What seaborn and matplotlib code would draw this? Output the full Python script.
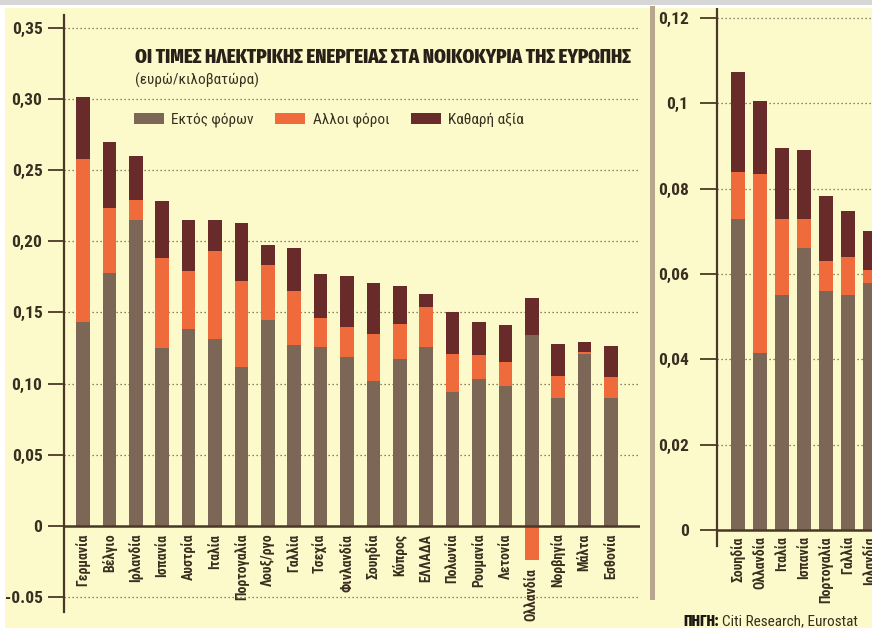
import matplotlib
matplotlib.use("Agg")
import matplotlib.pyplot as plt
import seaborn as sns
import pandas as pd
import numpy as np
from matplotlib.patches import Patch, Rectangle
from matplotlib import font_manager as fm
from matplotlib.ft2font import FT2Font

# ---------------- data ----------------
countries = ["Γερμανία", "Βέλγιο", "Ιρλανδία", "Ισπανία", "Αυστρία", "Ιταλία",
             "Πορτογαλία", "Λουξ/ργο", "Γαλλία", "Τσεχία", "Φινλανδία", "Σουηδία",
             "Κύπρος", "ΕΛΛΑΔΑ", "Πολωνία", "Ρουμανία", "Λετονία", "Ολλανδία",
             "Νορβηγία", "Μάλτα", "Εσθονία"]
excl_tax = [0.143, 0.178, 0.215, 0.125, 0.138, 0.131, 0.112, 0.145, 0.127, 0.126,
            0.119, 0.102, 0.117, 0.126, 0.094, 0.103, 0.098, 0.134, 0.090, 0.121, 0.090]
other_tax = [0.115, 0.045, 0.014, 0.063, 0.041, 0.062, 0.060, 0.038, 0.038, 0.020,
             0.021, 0.0325, 0.0246, 0.028, 0.027, 0.0174, 0.017, -0.024, 0.015, 0.0015, 0.0145]
net_value = [0.043, 0.047, 0.031, 0.040, 0.036, 0.022, 0.041, 0.0145, 0.030, 0.031,
             0.0356, 0.036, 0.027, 0.009, 0.029, 0.023, 0.026, 0.026, 0.023, 0.007, 0.022]

countries_r = ["Σουηδία", "Ολλανδία", "Ιταλία", "Ισπανία", "Πορτογαλία", "Γαλλία", "Ιρλανδία"]
excl_tax_r = [0.073, 0.0415, 0.055, 0.066, 0.056, 0.055, 0.058]
other_tax_r = [0.011, 0.042, 0.018, 0.007, 0.007, 0.009, 0.003]
net_value_r = [0.0234, 0.017, 0.0165, 0.016, 0.0153, 0.0108, 0.009]

left_ticks = [-0.05, 0, 0.05, 0.10, 0.15, 0.20, 0.25, 0.30, 0.35]
left_ticklabels = ["-0.05", "0", "0,05", "0,10", "0,15", "0,20", "0,25", "0,30", "0,35"]
right_ticks = [0, 0.02, 0.04, 0.06, 0.08, 0.10, 0.12]
right_ticklabels = ["0", "0,02", "0,04", "0,06", "0,08", "0,1", "0,12"]

title = "ΟΙ ΤΙΜΕΣ ΗΛΕΚΤΡΙΚΗΣ ΕΝΕΡΓΕΙΑΣ ΣΤΑ ΝΟΙΚΟΚΥΡΙΑ ΤΗΣ ΕΥΡΩΠΗΣ"
subtitle = "(ευρώ/κιλοβατώρα)"
legend_labels = ["Εκτός φόρων", "Αλλοι φόροι", "Καθαρή αξία"]
source_bold = "ΠΗΓΗ:"
source_text = "Citi Research, Eurostat"

# ---------------- style ----------------
W, H = 872, 628
BG = "#fcf9cb"
C_GRAY = "#7c6756"
C_ORANGE = "#f06b3c"
C_DARK = "#692b2a"
TXT = "#3a2e20"
AXC = "#4a3826"

sns.set_theme(style="white")


def has_greek(path):
    try:
        cm = FT2Font(path).get_charmap()
        return 0x03A3 in cm and 0x03C9 in cm
    except Exception:
        return False


def pick(cands):
    for c in cands:
        fs = [f for f in fm.fontManager.ttflist if f.name == c]
        if fs and has_greek(fs[0].fname):
            return c
    return "DejaVu Sans"


NARROW = pick(["Roboto Condensed", "Fira Sans Condensed", "Open Sans Condensed",
               "Sofia Sans Condensed", "Fira Sans Extra Condensed", "Liberation Sans Narrow"])
TITLEF = pick(["Fira Sans Extra Condensed", "Roboto Condensed", "Fira Sans Condensed",
               "Sofia Sans Extra Condensed", "Sofia Sans Condensed", "Liberation Sans Narrow"])
FAM = [NARROW, "DejaVu Sans"]
plt.rcParams["font.family"] = FAM

fig = plt.figure(figsize=(W / 100, H / 100), dpi=100)
fig.patch.set_facecolor(BG)

# page edges
fig.add_artist(Rectangle((0, 1 - 5 / H), 1, 5 / H, transform=fig.transFigure,
                         facecolor="#d6d6d6", edgecolor="none"))
fig.add_artist(Rectangle((0, 1 - 8 / H), 1, 3 / H, transform=fig.transFigure,
                         facecolor="white", edgecolor="none"))
fig.add_artist(Rectangle((0, 0), 5 / W, 1 - 5 / H, transform=fig.transFigure,
                         facecolor="white", edgecolor="none"))
# separator between panels
fig.add_artist(Rectangle((650 / W, 1 - 600 / H), 5 / W, 594 / H, transform=fig.transFigure,
                         facecolor="#b7a78e", edgecolor="none"))


def rect(x0, x1, ytop, ybot):
    return [x0 / W, 1 - ybot / H, (x1 - x0) / W, (ybot - ytop) / H]


def draw_stack(ax, cats, gray, orange, dark, width):
    g = np.array(gray)
    o = np.array(orange)
    d = np.array(dark)
    top = g + np.clip(o, 0, None) + d
    mid = np.where(o > 0, g + o, o)
    df = pd.DataFrame({"cat": cats, "top": top, "mid": mid, "low": g})
    for col, c in (("top", C_DARK), ("mid", C_ORANGE), ("low", C_GRAY)):
        sns.barplot(data=df, x="cat", y=col, color=c, saturation=1, width=width,
                    order=cats, ax=ax, linewidth=0, edgecolor="none")
    return top, mid


def style_axis(ax, ticks, ticklabels, tick_len, pad):
    ax.set_facecolor("none")
    for s in ["top", "right", "bottom"]:
        ax.spines[s].set_visible(False)
    ax.spines["left"].set_color(AXC)
    ax.spines["left"].set_linewidth(1.6)
    ax.set_yticks(ticks)
    ax.set_yticklabels(ticklabels, fontsize=12.5, fontweight="bold", color=TXT, family=FAM)
    ax.tick_params(axis="y", length=tick_len, width=1.3, color=AXC, pad=pad, left=True)
    ax.set_xticks([])
    ax.set_xlabel("")
    ax.set_ylabel("")
    for t in ticks:
        if t == 0:
            ax.axhline(0, color=AXC, lw=1.8, zorder=5)
        else:
            ax.axhline(t, color="#6e5c44", lw=0.9, ls=(0, (1, 2.2)), zorder=0)


# ---------------- left panel ----------------
axL = fig.add_axes(rect(64, 640, 15, 612))
topL, midL = draw_stack(axL, countries, excl_tax, other_tax, net_value, 0.52)
axL.set_xlim((64 - 83) / 26.4, (640 - 83) / 26.4)
axL.set_ylim((526 - 612) / 1424, (526 - 15) / 1424)
style_axis(axL, left_ticks, left_ticklabels, 11.5, 4)

for i, name in enumerate(countries):
    ybase = min(0, midL[i])
    axL.annotate(name, xy=(i, ybase), xytext=(0, -5.5), textcoords="offset points",
                 rotation=90, ha="center", va="top", fontsize=10, fontweight="bold",
                 color=TXT, family=FAM, annotation_clip=False)

# ---------------- right panel ----------------
axR = fig.add_axes(rect(717, 900, 8, 546))
draw_stack(axR, countries_r, excl_tax_r, other_tax_r, net_value_r, 0.6)
axR.set_xlim((717 - 738) / 22, (900 - 738) / 22)
axR.set_ylim((530 - 546) / 4267, (530 - 8) / 4267)
style_axis(axR, right_ticks, right_ticklabels, 12.5, 8)
for i, name in enumerate(countries_r):
    axR.annotate(name, xy=(i, 0), xytext=(0, -4.5), textcoords="offset points",
                 rotation=90, ha="center", va="top", fontsize=10, fontweight="bold",
                 color=TXT, family=FAM, annotation_clip=False)

# ---------------- texts ----------------
t = fig.text(135 / W, 1 - 57 / H, title, fontsize=16, fontweight="heavy", color="#2a2018",
             ha="left", va="center", family=[TITLEF, "DejaVu Sans"])
fig.canvas.draw()
w = t.get_window_extent().width
t.set_fontsize(16 * 497 / w)

fig.text(135 / W, 1 - 80 / H, subtitle, fontsize=11, color=TXT, ha="left", va="center",
         family=FAM)

handles = [Patch(facecolor=C_GRAY, edgecolor="none"),
           Patch(facecolor=C_ORANGE, edgecolor="none"),
           Patch(facecolor=C_DARK, edgecolor="none")]
fig.legend(handles, legend_labels, loc="center left",
           bbox_to_anchor=(134 / W, 1 - 120 / H), ncol=3, frameon=False,
           borderpad=0, borderaxespad=0, handlelength=1.95, handleheight=0.78,
           handletextpad=0.5, columnspacing=1.4,
           prop={"family": FAM, "size": 11},
           labelcolor=TXT)

s1 = fig.text(683 / W, 1 - 621 / H, source_bold, fontsize=11, fontweight="heavy",
              color="#1e1812", ha="left", va="center", family=[TITLEF, "DejaVu Sans"])
fig.canvas.draw()
x_end = s1.get_window_extent().x1
fig.text((x_end + 4) / W, 1 - 621 / H, source_text, fontsize=11, color=TXT,
         ha="left", va="center", family=FAM)

fig.savefig("out.png", dpi=100, facecolor=BG)
